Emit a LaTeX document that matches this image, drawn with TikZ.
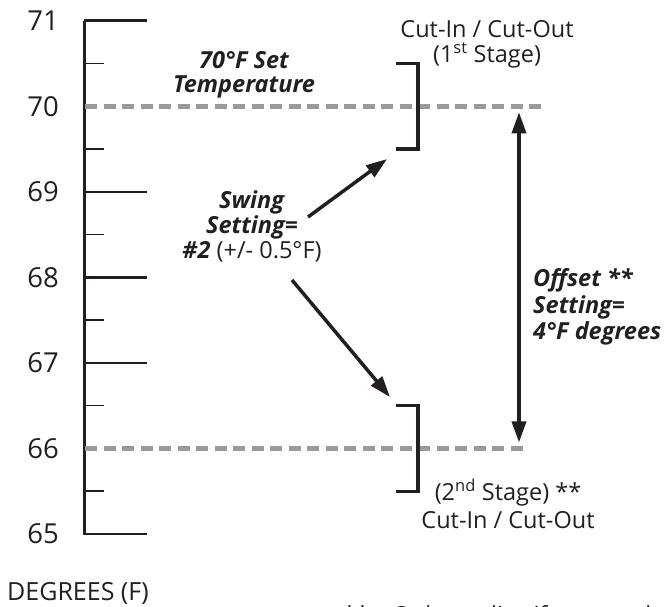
\documentclass[tikz,border=0pt]{standalone}
\usepackage{fontspec}
\setmainfont{Open Sans}
\usepackage{xcolor}
\usepackage{tikz}
\usetikzlibrary{arrows.meta, positioning}
\definecolor{thermo-ink}{HTML}{231F20}
\definecolor{thermo-gray}{HTML}{9A9A9A}

\begin{document}
\begin{tikzpicture}[
		x=1pt, y=-1pt,
		axisline/.style={
			draw=thermo-ink, line width=3pt
		},
		majortick/.style={
			draw=thermo-ink, line width=2.6pt
		},
		minortick/.style={
			draw=thermo-ink, line width=1.6pt
		},
		setline/.style={
			draw=thermo-gray, line width=5.5pt,
			dash pattern=on 12pt off 6.5pt
		},
		bracket/.style={
			draw=thermo-ink, line width=3.5pt
		},
		pointer/.style={
			draw=thermo-ink, line width=3.5pt,
			-{Triangle[length=21pt, width=14pt]}
		},
		numlabel/.style={
			font=\fontsize{27.5}{27.5}\selectfont, text=thermo-ink,
			inner sep=0pt
		},
		note/.style={
			font=\fontsize{23.5}{25}\selectfont, text=thermo-ink,
			align=center, inner sep=0pt
		},
		boldnote/.style={
			note, font=\fontsize{23.5}{24}\selectfont\bfseries\itshape
		}
		]
		\useasboundingbox (0,0) rectangle (668,606);
		
		\def\ypos{20.7}
		\def\ystep{85.55}
		
		% scale
		\draw[axisline] (84,\ypos) -- (84,534.5);
		
		\node[numlabel] (t71) at (43,\ypos) {71};
		\draw[majortick] (84,\ypos) -- (147,\ypos);
		\pgfmathsetmacro\ypos{\ypos+\ystep/2}
		\draw[minortick] (84,\ypos) -- (104,\ypos);
		
		\pgfmathsetmacro\ypos{\ypos+\ystep/2}
		\node[numlabel] (t70) at (43,\ypos) {70};
		\coordinate (set-left) at (85,\ypos);
		\coordinate (set-right) at (545,\ypos);
		\coordinate (offset-top) at (519,\ypos+6);
		\pgfmathsetmacro\ypos{\ypos+\ystep/2}
		\draw[minortick] (84,\ypos) -- (104,\ypos);
		
		\pgfmathsetmacro\ypos{\ypos+\ystep/2}
		\node[numlabel] (t69) at (43,\ypos) {69};
		\draw[majortick] (84,\ypos) -- (147,\ypos);
		\pgfmathsetmacro\ypos{\ypos+\ystep/2}
		\draw[minortick] (84,\ypos) -- (104,\ypos);
		
		\pgfmathsetmacro\ypos{\ypos+\ystep/2}
		\node[numlabel] (t68) at (43,\ypos) {68};
		\draw[majortick] (84,\ypos) -- (147,\ypos);
		\pgfmathsetmacro\ypos{\ypos+\ystep/2}
		\draw[minortick] (84,\ypos) -- (104,\ypos);
		
		\pgfmathsetmacro\ypos{\ypos+\ystep/2}
		\node[numlabel] (t67) at (43,\ypos) {67};
		\draw[majortick] (84,\ypos) -- (147,\ypos);
		\pgfmathsetmacro\ypos{\ypos+\ystep/2}
		\draw[minortick] (84,\ypos) -- (104,\ypos);
		
		\pgfmathsetmacro\ypos{\ypos+\ystep/2}
		\node[numlabel] (t66) at (43,\ypos) {66};
		\coordinate (stage2-left) at (85,\ypos);
		\coordinate (stage2-right) at (527,\ypos);
		\coordinate (offset-bottom) at (519,\ypos-6);
		\pgfmathsetmacro\ypos{\ypos+\ystep/2}
		\draw[minortick] (84,\ypos) -- (104,\ypos);
		
		\pgfmathsetmacro\ypos{\ypos+\ystep/2}
		\node[numlabel] (t65) at (43,\ypos) {65};
		\draw[majortick] (84,\ypos) -- (147,\ypos);
		
		% set point and second stage lines
		\draw[setline] (set-left) -- (set-right);
		\draw[setline] (stage2-left) -- (stage2-right);
		
		% brackets
		\draw[bracket] (396,63.5) -- (418,63.5) -- (418,149) -- (396,149);
		\draw[bracket] (396,405.5) -- (418,405.5) -- (418,491.5) -- (396,491.5);
		\coordinate (stage1-in) at (387,159);
		\coordinate (stage2-in) at (390,397);
		
		% texts
		\node[boldnote] (setpoint) at (244,75) {70°F Set\\Temperature};
		\node[note] (stage1) at (487,44) {Cut-In / Cut-Out\\(1\textsuperscript{st} Stage)};
		\node[note, font=\fontsize{23.5}{25}\selectfont] (swing) at (252,226)
		{\textbf{\itshape Swing}\\\textbf{\itshape Setting=}\\\textbf{\itshape \#2} (+/- 0.5°F)};
		\node[boldnote, align=left, anchor=west, font=\fontsize{23.5}{26.5}\selectfont\bfseries\itshape] (offset) at (533,307)
		{Offset **\\Setting=\\4°F degrees};
		\node[note, font=\fontsize{23.5}{28}\selectfont] (stage2) at (508,504) {(2\textsuperscript{nd} Stage) **\\Cut-In / Cut-Out};
		\node[note, anchor=base west, font=\fontsize{25}{25}\selectfont] (units) at (7,600) {DEGREES (F)};
		\node[note, anchor=base west] (footnote) at (343,623) {**\quad Only applies if a second};
		
		% arrows
		\coordinate (swing-up) at (308,217);
		\coordinate (swing-down) at (292,280);
		\draw[pointer] (swing-up) -- (stage1-in);
		\draw[pointer] (swing-down) -- (stage2-in);
		\draw[pointer, {Triangle[length=21pt, width=14pt]}-{Triangle[length=21pt, width=14pt]}] (offset-bottom) -- (offset-top);
		
	\end{tikzpicture}
\end{document}
